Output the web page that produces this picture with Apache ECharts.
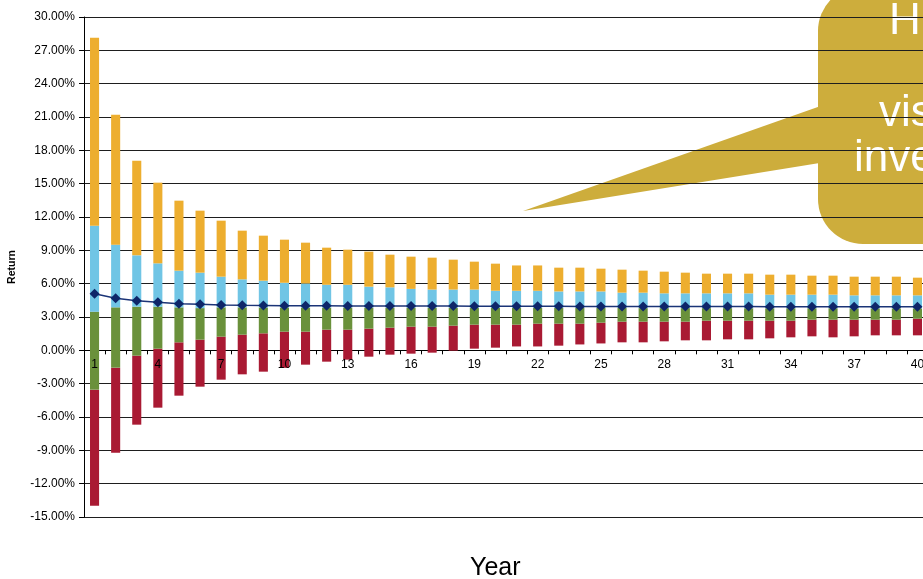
<!DOCTYPE html>
<html>
<head>
<meta charset="utf-8">
<script src="https://cdn.jsdelivr.net/npm/echarts@6/dist/echarts.min.js"></script>
<style>
  html, body { margin: 0; padding: 0; background: #fff; }
  #chart { width: 923px; height: 579px; }
</style>
</head>
<body>
<div id="chart"></div>
<script>
// Years of the holding period
const years = ['1','2','3','4','5','6','7','8','9','10','11','12','13','14','15','16','17','18','19','20',
               '21','22','23','24','25','26','27','28','29','30','31','32','33','34','35','36','37','38','39','40'];

// Annualised return percentiles (%) per holding period
const p5  = [-13.98, -9.21, -6.69, -5.16, -4.08, -3.27, -2.64, -2.16, -1.92, -1.58, -1.29, -1.02, -0.84, -0.57, -0.39, -0.30, -0.21, -0.03, 0.15, 0.24,
             0.35, 0.35, 0.42, 0.53, 0.62, 0.72, 0.72, 0.81, 0.90, 0.90, 0.99, 0.99, 1.08, 1.17, 1.26, 1.17, 1.26, 1.35, 1.35, 1.35];
const p25 = [-3.54, -1.56, -0.48, 0.15, 0.72, 0.96, 1.23, 1.41, 1.53, 1.68, 1.68, 1.86, 1.86, 1.95, 2.04, 2.13, 2.13, 2.22, 2.31, 2.31,
             2.31, 2.40, 2.40, 2.40, 2.49, 2.58, 2.58, 2.58, 2.58, 2.67, 2.67, 2.67, 2.67, 2.67, 2.76, 2.76, 2.76, 2.76, 2.76, 2.85];
const p50 = [3.48, 3.87, 3.93, 3.93, 3.87, 3.80, 3.87, 3.87, 3.86, 3.86, 3.85, 3.85, 3.85, 3.84, 3.84, 3.84, 3.83, 3.83, 3.83, 3.82,
             3.82, 3.82, 3.81, 3.81, 3.81, 3.81, 3.80, 3.80, 3.80, 3.80, 3.80, 3.79, 3.79, 3.79, 3.79, 3.79, 3.78, 3.78, 3.78, 3.78];
const p75 = [11.22, 9.51, 8.55, 7.83, 7.17, 6.99, 6.63, 6.39, 6.27, 6.08, 6.02, 5.90, 5.90, 5.73, 5.67, 5.53, 5.47, 5.47, 5.47, 5.36,
             5.36, 5.36, 5.30, 5.30, 5.30, 5.19, 5.19, 5.13, 5.13, 5.13, 5.13, 5.13, 5.01, 5.01, 5.01, 5.01, 4.95, 4.95, 4.95, 4.95];
const p95 = [28.14, 21.21, 17.07, 15.09, 13.47, 12.57, 11.67, 10.77, 10.32, 9.96, 9.69, 9.24, 9.06, 8.88, 8.61, 8.43, 8.34, 8.16, 7.98, 7.80,
             7.64, 7.64, 7.44, 7.44, 7.35, 7.26, 7.17, 7.08, 6.99, 6.90, 6.90, 6.90, 6.81, 6.81, 6.72, 6.72, 6.63, 6.63, 6.63, 6.54];
const meanReturn = [5.10, 4.68, 4.47, 4.32, 4.20, 4.14, 4.08, 4.05, 4.04, 4.02, 4.02, 4.01, 4.00, 4.00, 3.99, 3.99, 3.98, 3.98, 3.97, 3.97,
             3.96, 3.96, 3.96, 3.95, 3.95, 3.95, 3.95, 3.94, 3.94, 3.94, 3.94, 3.94, 3.93, 3.93, 3.93, 3.93, 3.93, 3.93, 3.93, 3.93];

const FONT = '"Liberation Sans", Arial, sans-serif';

// Value-axis range; the category axis sits on the zero line
const Y_MIN = -15, Y_MAX = 30;
const GRID_TOP = 17, GRID_HEIGHT = 500;
const ZERO_OFFSET = GRID_HEIGHT * (0 - Y_MIN) / (Y_MAX - Y_MIN);

// Build [categoryIndex, low, high] rows for a floating band
function band(lo, hi) {
  return years.map((_, i) => [i, lo[i], hi[i]]);
}

// Draws one floating bar segment between low and high on the value axis
function renderBand(params, api) {
  const x = api.value(0);
  const a = api.coord([x, api.value(1)]);
  const b = api.coord([x, api.value(2)]);
  const w = api.size([1, 0])[0] * 0.43;
  return {
    type: 'rect',
    shape: { x: a[0] - w / 2, y: b[1], width: w, height: a[1] - b[1] },
    style: { fill: api.visual('color') }
  };
}

function bandSeries(name, color, lo, hi) {
  return {
    name: name,
    type: 'custom',
    renderItem: renderBand,
    itemStyle: { color: color },
    encode: { x: 0, y: [1, 2] },
    data: band(lo, hi),
    z: 2
  };
}

const chart = echarts.init(document.getElementById('chart'), null, { renderer: 'canvas' });

chart.setOption({
  animation: false,
  backgroundColor: '#ffffff',
  textStyle: { fontFamily: FONT },
  grid: {
    left: 84, top: GRID_TOP, width: 844, height: GRID_HEIGHT,
    containLabel: false,
    outerBoundsMode: 'none'
  },
  xAxis: [
    {
      // zero line with year ticks
      type: 'category',
      data: years,
      position: 'bottom',
      boundaryGap: true,
      offset: -ZERO_OFFSET,
      axisLine: { onZero: false, lineStyle: { color: '#000', width: 1 } },
      axisTick: { show: true, interval: 0, length: 4, alignWithLabel: false, lineStyle: { color: '#000' } },
      axisLabel: { show: false },
      splitLine: { show: false }
    },
    {
      // year labels, drawn over the bars
      type: 'category',
      data: years,
      position: 'bottom',
      boundaryGap: true,
      offset: -ZERO_OFFSET,
      z: 10,
      axisLine: { show: false, onZero: false },
      axisTick: { show: false },
      axisLabel: { interval: 2, margin: 8, fontSize: 12, color: '#000', fontFamily: FONT },
      splitLine: { show: false }
    }
  ],
  yAxis: {
    type: 'value',
    min: Y_MIN,
    max: Y_MAX,
    interval: 3,
    name: 'Return',
    nameLocation: 'middle',
    nameGap: 66,
    nameRotate: 90,
    nameTextStyle: { fontSize: 10.5, fontWeight: 'bold', color: '#000', fontFamily: FONT },
    axisLine: { show: true, lineStyle: { color: '#000', width: 1 } },
    axisTick: { show: true, length: 5, lineStyle: { color: '#000' } },
    axisLabel: {
      margin: 9, fontSize: 12, color: '#000', fontFamily: FONT,
      formatter: v => v.toFixed(2) + '%'
    },
    splitLine: { show: true, lineStyle: { color: '#1e1e1e', width: 1 } }
  },
  series: [
    bandSeries('5th-25th percentile', '#A91A33', p5, p25),
    bandSeries('25th-50th percentile', '#6A913B', p25, p50),
    bandSeries('50th-75th percentile', '#70C5E5', p50, p75),
    bandSeries('75th-95th percentile', '#EDAE2F', p75, p95),
    {
      name: 'Mean',
      type: 'line',
      data: meanReturn,
      symbol: 'diamond',
      symbolSize: 10,
      lineStyle: { color: '#1B3477', width: 1.5 },
      itemStyle: { color: '#0E2669' },
      z: 4
    }
  ],
  graphic: [
    {
      type: 'text',
      left: 470, top: 556,
      style: { text: 'Year', font: '25px ' + FONT, fill: '#000' }
    },
    {
      type: 'group',
      z: 100,
      children: [
        {
          type: 'polygon',
          shape: { points: [[523, 211], [832, 102], [832, 161]] },
          style: { fill: '#CDAD3C' }
        },
        {
          type: 'rect',
          shape: { x: 818, y: -14, width: 160, height: 258, r: 45 },
          style: { fill: '#CDAD3C' }
        },
        {
          type: 'text', x: 889, y: 44,
          style: { text: 'H', font: '44px ' + FONT, fill: '#fff', verticalAlign: 'bottom' }
        },
        {
          type: 'text', x: 879, y: 136,
          style: { text: 'vis', font: '44px ' + FONT, fill: '#fff', verticalAlign: 'bottom' }
        },
        {
          type: 'text', x: 854, y: 181,
          style: { text: 'inve', font: '44px ' + FONT, fill: '#fff', verticalAlign: 'bottom' }
        }
      ]
    }
  ]
});
</script>
</body>
</html>
